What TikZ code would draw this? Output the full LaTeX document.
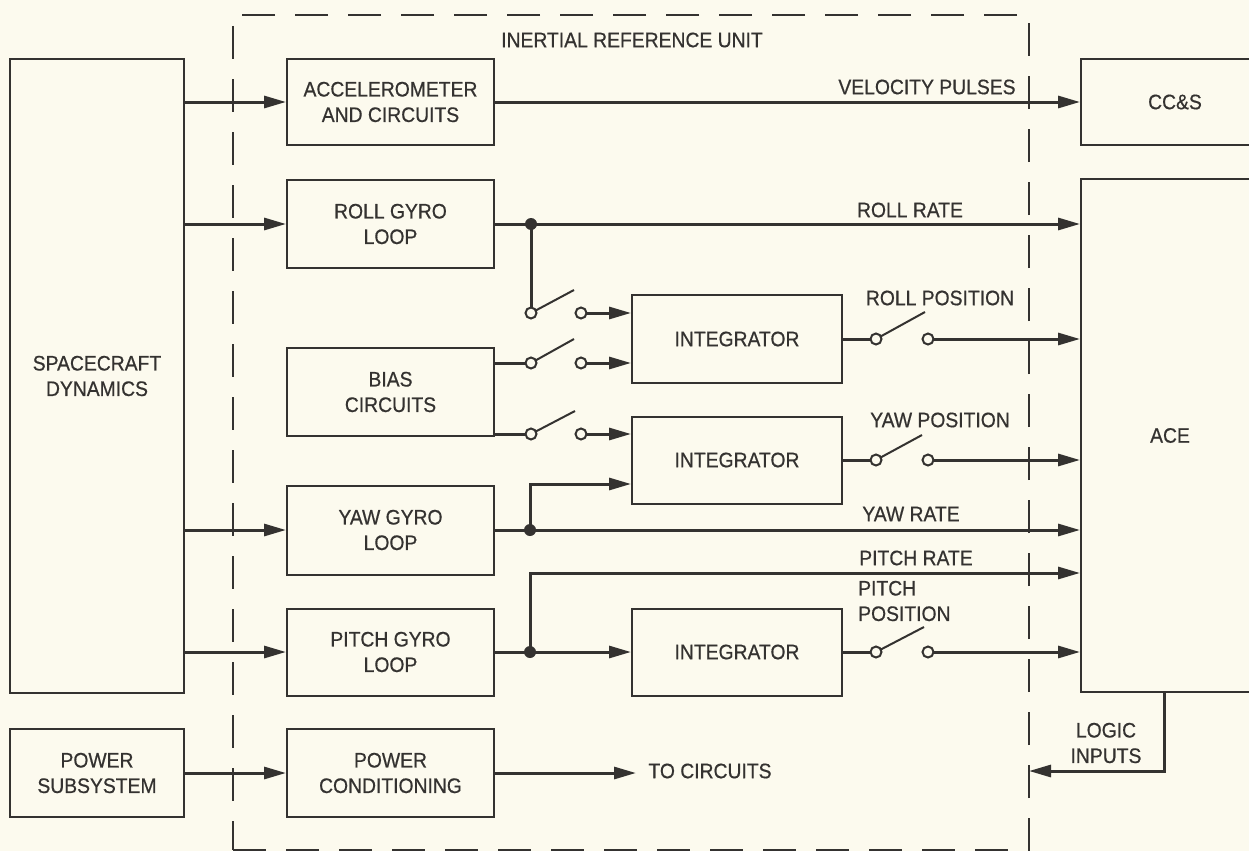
\documentclass[tikz,border=0pt]{standalone}
\usepackage{fontspec}
\setmainfont{Liberation Sans}[FakeStretch=0.92,FakeBold=0.6]
\usetikzlibrary{arrows.meta,calc}
\definecolor{paper}{RGB}{252,250,238}
\definecolor{ink}{RGB}{52,50,48}
\newcommand\lbl{\fontsize{21}{25.5}\selectfont}
\begin{document}
\begin{tikzpicture}[x=1pt,y=-1pt,
  box/.style={draw=ink,line width=2pt,align=center,inner sep=0pt,font=\lbl,text=ink},
  conn/.style={draw=ink,line width=3pt},
  arr/.style={conn,-{Triangle[length=22pt,width=12pt]}},
  lab/.style={text=ink,font=\lbl,inner sep=0pt,align=center},
  jdot/.style={circle,fill=ink,inner sep=0pt,minimum size=12pt},
  swc/.style={circle,draw=ink,fill=paper,line width=2pt,inner sep=0pt,minimum size=11pt},
  blade/.style={draw=ink,line width=2pt},
]
\useasboundingbox[fill=paper] (0,0) rectangle (1249,851);
\clip (0,0) rectangle (1249,851);

% dashed IRU boundary
\node[draw=ink,line width=2pt,dash pattern=on 33pt off 20pt,minimum width=796pt,minimum height=835pt,inner sep=0pt] (iru) at (631,432.5) {};
\node[lab] (irul) at (632,40) {INERTIAL REFERENCE UNIT};

% boxes
\node[box,minimum width=174pt,minimum height=634pt] (sd) at (97,376) {SPACECRAFT\\DYNAMICS};
\node[box,minimum width=174pt,minimum height=88pt] (ps) at (97,773) {POWER\\SUBSYSTEM};
\node[box,minimum width=207pt,minimum height=86pt] (acc) at (390.5,102) {ACCELEROMETER\\AND CIRCUITS};
\node[box,minimum width=207pt,minimum height=88pt] (roll) at (390.5,224) {ROLL GYRO\\LOOP};
\node[box,minimum width=207pt,minimum height=88pt] (bias) at (390.5,392) {BIAS\\CIRCUITS};
\node[box,minimum width=207pt,minimum height=89pt] (yaw) at (390.5,530) {YAW GYRO\\LOOP};
\node[box,minimum width=207pt,minimum height=87pt] (pitch) at (390.5,652) {PITCH GYRO\\LOOP};
\node[box,minimum width=207pt,minimum height=88pt] (pc) at (390.5,773) {POWER\\CONDITIONING};
\node[box,minimum width=210pt,minimum height=88pt] (int1) at (737,339) {INTEGRATOR};
\node[box,minimum width=210pt,minimum height=87pt] (int2) at (737,460) {INTEGRATOR};
\node[box,minimum width=210pt,minimum height=87pt] (int3) at (737,652) {INTEGRATOR};
\node[box,minimum width=188pt,minimum height=86pt] (ccs) at (1175,102) {CC\&S};
\node[box,minimum width=178pt,minimum height=513pt] (ace) at (1170,435.5) {ACE};

% coordinates
\coordinate (j1) at (531,224);
\coordinate (j2) at (530,530);
\coordinate (j3) at (530,652);
\coordinate (s1p) at (531,313); \coordinate (s1c) at (581,313);
\coordinate (s2p) at (531,363); \coordinate (s2c) at (581,363);
\coordinate (s3p) at (531,434); \coordinate (s3c) at (581,434);
\coordinate (o1p) at (876,339); \coordinate (o1c) at (928,339);
\coordinate (o2p) at (876,460); \coordinate (o2c) at (928,460);
\coordinate (o3p) at (876,652); \coordinate (o3c) at (928,652);
\coordinate (ls) at (1164,692);
\coordinate (li) at (1029,771);
\coordinate (tc) at (636,773);

% inputs from spacecraft dynamics
\draw[arr] (sd.east |- acc) -- (acc.west);
\draw[arr] (sd.east |- roll) -- (roll.west);
\draw[arr] (sd.east |- yaw) -- (yaw.west);
\draw[arr] (sd.east |- pitch) -- (pitch.west);
\draw[arr] (ps.east) -- (pc.west);
\draw[arr] (pc.east) -- (tc);

% outputs
\draw[arr] (acc.east) -- (acc.east -| ccs.west);
\draw[arr] (roll.east) -- (roll.east -| ace.west);
\draw[conn] (j1) -- (s1p);
\draw[arr] (s1c) -- (s1c -| int1.west);
\draw[conn] (bias.east |- s2p) -- (s2p);
\draw[arr] (s2c) -- (s2c -| int1.west);
\draw[conn] (bias.east |- s3p) -- (s3p);
\draw[arr] (s3c) -- (s3c -| int2.west);
\draw[arr] (yaw.east) -- (yaw.east -| ace.west);
\draw[arr] (j2) |- ($(int2.west)+(0,24)$);
\draw[arr] (pitch.east) -- (int3.west);
\draw[arr] (j3) |- (ace.west |- 0,573);
\draw[conn] (int1.east) -- (o1p);
\draw[arr] (o1c) -- (o1c -| ace.west);
\draw[conn] (int2.east) -- (o2p);
\draw[arr] (o2c) -- (o2c -| ace.west);
\draw[conn] (int3.east) -- (o3p);
\draw[arr] (o3c) -- (o3c -| ace.west);
\draw[arr] (ls) |- (li);

% switch blades
\draw[blade] (s1p) -- ++(43,-23);
\draw[blade] (s2p) -- ++(43,-24);
\draw[blade] (s3p) -- ++(44,-23);
\draw[blade] (o1p) -- ++(49,-27);
\draw[blade] (o2p) -- ++(46,-25);
\draw[blade] (o3p) -- ++(48,-25);

% switch terminals
\foreach \c in {s1p,s1c,s2p,s2c,s3p,s3c,o1p,o1c,o2p,o2c,o3p,o3c}
  \node[swc] at (\c) {};

% junction dots
\node[jdot] at (j1) {};
\node[jdot] at (j2) {};
\node[jdot] at (j3) {};

% labels
\node[lab] (lvp) at (927,87) {VELOCITY PULSES};
\node[lab] (lrr) at (910,210) {ROLL RATE};
\node[lab] (lrp) at (940,298) {ROLL POSITION};
\node[lab] (lyp) at (940,420) {YAW POSITION};
\node[lab] (lyr) at (911,514) {YAW RATE};
\node[lab] (lpr) at (916,558) {PITCH RATE};
\node[lab,align=left,anchor=west] (lpp) at (858,601) {PITCH\\POSITION};
\node[lab] (ltc) at (710,771) {TO CIRCUITS};
\node[lab] (lli) at (1106,743) {LOGIC\\INPUTS};
\end{tikzpicture}
\end{document}
